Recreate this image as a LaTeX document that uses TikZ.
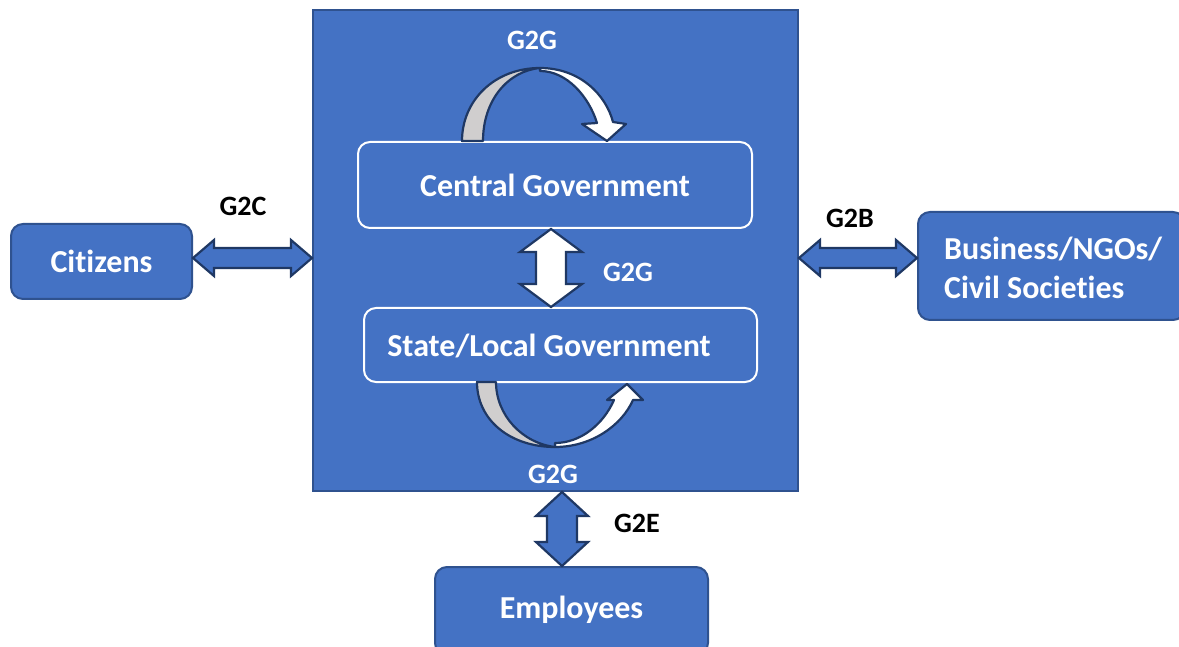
\documentclass[tikz,border=0pt]{standalone}
\usepackage{fontspec}
\setmainfont{Carlito}[Ligatures=NoCommon]
\usetikzlibrary{calc}
\definecolor{pblue}{HTML}{4472C4}
\definecolor{pdark}{HTML}{2F528F}
\definecolor{pnavy}{HTML}{1F3864}
\definecolor{pgray}{HTML}{D0CECE}
\tikzset{
  box/.style={draw=pdark, line width=2pt, fill=pblue, rounded corners=12pt, text=white, font=\bfseries\fontsize{32}{38}\selectfont},
  mainbox/.style={draw=pdark, line width=2pt, fill=pblue},
  inbox/.style={draw=white, line width=2pt, fill=pblue, rounded corners=12pt, text=white, font=\bfseries\fontsize{32}{38}\selectfont},
  btext/.style={text=white, font=\bfseries\fontsize{32}{38}\selectfont, inner sep=0pt},
  blab/.style={text=black, font=\bfseries\fontsize{28}{32}\selectfont},
  wlab/.style={text=white, font=\bfseries\fontsize{28}{32}\selectfont},
  dblarr/.style={draw=pnavy, line width=2.2pt, fill=pblue, line join=miter},
  whitearr/.style={draw=pnavy, line width=2.2pt, fill=white, line join=miter},
  grayarr/.style={draw=pnavy, line width=2.2pt, fill=pgray, line join=round},
}
% horizontal double arrow between two points (same y as first)
\newcommand\hdarr[3][dblarr]{\draw[#1] let \p1=(#2), \p2=(#3) in
  (\x1,\y1) -- (\x1+21pt,\y1+18pt) -- (\x1+21pt,\y1+10pt) -- (\x2-21pt,\y1+10pt) -- (\x2-21pt,\y1+18pt)
  -- (\x2,\y1) -- (\x2-21pt,\y1-18pt) -- (\x2-21pt,\y1-10pt) -- (\x1+21pt,\y1-10pt) -- (\x1+21pt,\y1-18pt) -- cycle;}
% vertical double arrow between two points (same x as first)
\newcommand\vdarr[6][dblarr]{\draw[#1] let \p1=(#2), \p2=(#3) in
  (\x1,\y1) -- (\x1+#5,\y1-#4) -- (\x1+#6,\y1-#4) -- (\x1+#6,\y2+#4) -- (\x1+#5,\y2+#4)
  -- (\x1,\y2) -- (\x1-#5,\y2+#4) -- (\x1-#6,\y2+#4) -- (\x1-#6,\y1-#4) -- (\x1-#5,\y1-#4) -- cycle;}
\begin{document}
\begin{tikzpicture}[x=1pt,y=-1pt]
\useasboundingbox (0,0) rectangle (1179,647);
\clip (0,0) rectangle (1179,647);
% main box
\node[mainbox, minimum width=485pt, minimum height=481pt, inner sep=0pt] (main) at (555.5,250.5) {};
% outer boxes
\node[box, minimum width=181pt, minimum height=75pt, inner sep=0pt] (cit) at (101.5,261.5) {Citizens};
\node[box, minimum width=267pt, minimum height=108pt, inner sep=0pt] (bus) at (1051.5,266) {};
\node[btext, align=left, anchor=west] (bustext) at (944,268) {Business/NGOs/\\[1pt]Civil Societies};
\node[box, minimum width=273pt, minimum height=88pt, inner sep=0pt] (emp) at (571.5,611) {};
\node[btext] (emptext) at (571.5,610) {Employees};
% inner boxes
\node[inbox, minimum width=394pt, minimum height=86pt, inner sep=0pt] (cg) at (555,185) {Central Government};
\node[inbox, minimum width=393pt, minimum height=74pt, inner sep=0pt] (sl) at (560.5,345) {};
\node[btext] (sltext) at (549,346) {State/Local Government};
% double arrows
\hdarr{cit.east |- 0,258}{main.west |- 0,258}
\hdarr{main.east |- 0,258}{bus.west |- 0,258}
\vdarr{main.south -| 562,0}{emp.north -| 562,0}{24pt}{26pt}{15pt}
\vdarr[whitearr]{cg.south -| 551,0}{sl.north -| 551,0}{23pt}{31pt}{15pt}
% top curved arrow
\draw[grayarr] (462,141) .. controls (462,100) and (495,68) .. (540,68)
  .. controls (508,71) and (483,100) .. (483,141) -- cycle;
\draw[whitearr, line join=round] (540,68) .. controls (580,68) and (606,95) .. (613,122) -- (626,124) -- (607,141) -- (582,124) -- (597,123)
  .. controls (589,97) and (567,71) .. (540,71) -- cycle;
% bottom curved arrow
\draw[grayarr] (477,382) .. controls (477,420) and (510,447) .. (555,447)
  .. controls (522,443) and (496,415) .. (496,382) -- cycle;
\draw[whitearr, line join=round] (555,447) .. controls (592,447) and (622,425) .. (633,400) -- (643,400) -- (627,384) -- (607,400) -- (614,400)
  .. controls (603,425) and (580,443) .. (555,443) -- cycle;
% labels
\node[blab] (g2c) at (243,206) {G2C};
\node[blab] (g2b) at (850,218) {G2B};
\node[blab] (g2e) at (637,523) {G2E};
\node[wlab] (g2gtop) at (532,40) {G2G};
\node[wlab] (g2gmid) at (628,272) {G2G};
\node[wlab] (g2gbot) at (553,474) {G2G};
\end{tikzpicture}
\end{document}
